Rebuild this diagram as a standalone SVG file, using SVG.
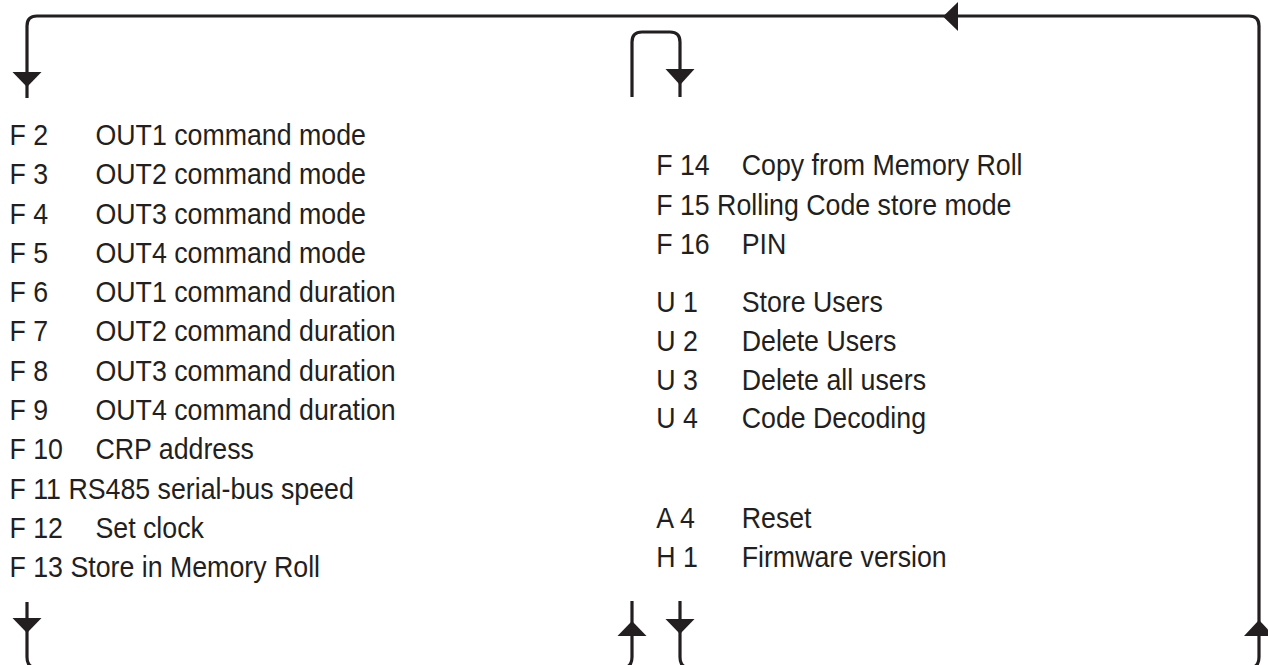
<svg xmlns="http://www.w3.org/2000/svg" width="1268" height="665" viewBox="0 0 1268 665">
<style>
.ln{fill:none;stroke:#231f20;stroke-width:3.2;stroke-linejoin:round}
.ah{fill:#231f20;stroke:none}
.t{font-family:"Liberation Sans",Arial,sans-serif;font-size:30px;fill:#231f20}
</style>
<rect width="1268" height="665" fill="#ffffff"/>
<g id="connectors">
<path class="ln" d="M27,98 V26 Q27,16 37,16 H1249 Q1259,16 1259,26 V657 Q1259,668 1249,668"/>
<path class="ln" d="M632,97 V42 Q632,32 642,32 H670 Q680,32 680,42 V97"/>
<path class="ln" d="M27,602 V657 Q27,668 37,668"/>
<path class="ln" d="M632,601 V657 Q632,668 622,668"/>
<path class="ln" d="M680,601 V657 Q680,668 690,668"/>
<polygon class="ah" points="12.5,72 41.5,72 27,87"/>
<polygon class="ah" points="665.5,69 694.5,69 680,85"/>
<polygon class="ah" points="943,16.5 958,2 958,31"/>
<polygon class="ah" points="12.5,618 41.5,618 27,633"/>
<polygon class="ah" points="617.5,636 646.5,636 632,621"/>
<polygon class="ah" points="665.5,619 694.5,619 680,634"/>
<polygon class="ah" points="1244,636 1274,636 1259,620"/>
</g>
<g transform="scale(0.892,1)">
<g id="f2"><text class="t" x="10.6" y="145">F 2</text><text class="t" x="107" y="145">OUT1 command mode</text></g>
<g id="f3"><text class="t" x="10.6" y="184.3">F 3</text><text class="t" x="107" y="184.3">OUT2 command mode</text></g>
<g id="f4"><text class="t" x="10.6" y="223.6">F 4</text><text class="t" x="107" y="223.6">OUT3 command mode</text></g>
<g id="f5"><text class="t" x="10.6" y="262.9">F 5</text><text class="t" x="107" y="262.9">OUT4 command mode</text></g>
<g id="f6"><text class="t" x="10.6" y="302.2">F 6</text><text class="t" x="107" y="302.2">OUT1 command duration</text></g>
<g id="f7"><text class="t" x="10.6" y="341.5">F 7</text><text class="t" x="107" y="341.5">OUT2 command duration</text></g>
<g id="f8"><text class="t" x="10.6" y="380.8">F 8</text><text class="t" x="107" y="380.8">OUT3 command duration</text></g>
<g id="f9"><text class="t" x="10.6" y="420.1">F 9</text><text class="t" x="107" y="420.1">OUT4 command duration</text></g>
<g id="f10"><text class="t" x="10.6" y="459.4">F 10</text><text class="t" x="107" y="459.4">CRP address</text></g>
<g id="f11"><text class="t" x="10.6" y="498.7">F 11 RS485 serial-bus speed</text></g>
<g id="f12"><text class="t" x="10.6" y="538">F 12</text><text class="t" x="107" y="538">Set clock</text></g>
<g id="f13"><text class="t" x="10.6" y="577.3">F 13 Store in Memory Roll</text></g>
<g id="f14"><text class="t" x="735.6" y="175.5">F 14</text><text class="t" x="831.5" y="175.5">Copy from Memory Roll</text></g>
<g id="f15"><text class="t" x="735.6" y="214.8">F 15 Rolling Code store mode</text></g>
<g id="f16"><text class="t" x="735.6" y="254.1">F 16</text><text class="t" x="831.5" y="254.1">PIN</text></g>
<g id="u1"><text class="t" x="735.6" y="312">U 1</text><text class="t" x="831.5" y="312">Store Users</text></g>
<g id="u2"><text class="t" x="735.6" y="350.8">U 2</text><text class="t" x="831.5" y="350.8">Delete Users</text></g>
<g id="u3"><text class="t" x="735.6" y="389.6">U 3</text><text class="t" x="831.5" y="389.6">Delete all users</text></g>
<g id="u4"><text class="t" x="735.6" y="428.4">U 4</text><text class="t" x="831.5" y="428.4">Code Decoding</text></g>
<g id="a4"><text class="t" x="735.6" y="528">A 4</text><text class="t" x="831.5" y="528">Reset</text></g>
<g id="h1"><text class="t" x="735.6" y="567">H 1</text><text class="t" x="831.5" y="567">Firmware version</text></g>
</g>
</svg>
